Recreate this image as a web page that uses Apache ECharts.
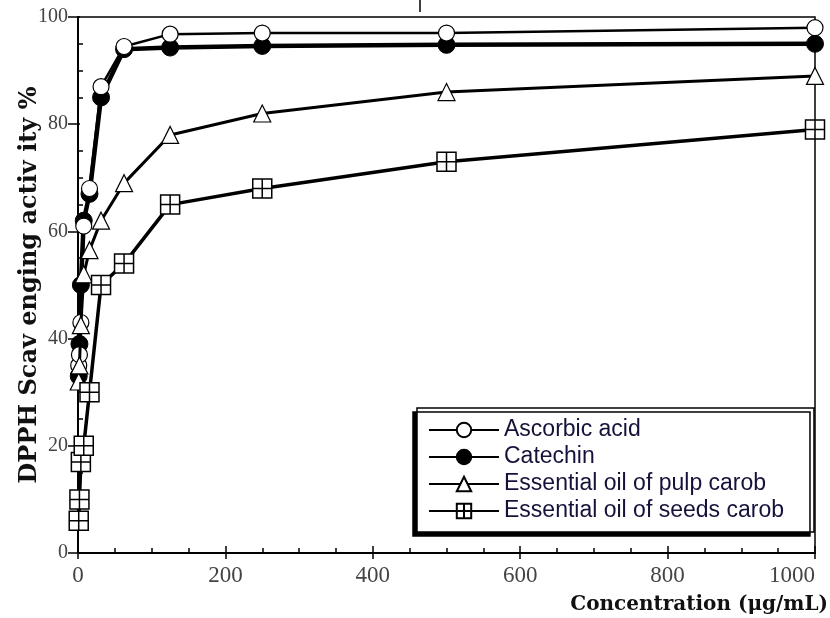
<!DOCTYPE html>
<html>
<head>
<meta charset="utf-8">
<script src="https://cdn.jsdelivr.net/npm/echarts@6/dist/echarts.min.js"></script>
<style>
  html, body { margin: 0; padding: 0; background: #fff; }
  #chart { width: 830px; height: 618px; }
</style>
</head>
<body>
<div id="chart"></div>
<script>
// concentrations (µg/mL)
var conc = [0.98, 1.95, 3.9, 7.8, 15.6, 31.25, 62.5, 125, 250, 500, 1000];
// DPPH scavenging activity %
var ascorbic = [35, 37, 43, 61, 68, 87, 94.5, 96.8, 97, 97, 98];
var catechin = [33, 39, 50, 62, 67, 85, 94, 94.3, 94.6, 94.8, 95];
var pulpOil = [32, 35, 42.5, 52, 56.5, 62, 69, 78, 82, 86, 89];
var seedOil = [6, 10, 17, 20, 30, 50, 54, 65, 68, 73, 79];
var names = ['Ascorbic acid', 'Catechin', 'Essential oil of pulp carob', 'Essential oil of seeds carob'];

function pairs(ys) {
  var out = [];
  for (var i = 0; i < conc.length; i++) out.push([conc[i], ys[i]]);
  return out;
}

var serif = '"Liberation Serif", "DejaVu Serif", serif';
var wideSerif = '"DejaVu Serif", serif';
var crossSquare = 'path://M0,0H10V10H0Z M5,0V10 M0,5H10';

var myChart = echarts.init(document.getElementById('chart'));

var option = {
  animation: false,
  backgroundColor: '#fff',
  grid: {
    left: 78, right: 15, top: 17, bottom: 65,
    outerBoundsMode: 'none',
    containLabel: false,
    show: true, borderColor: '#000', borderWidth: 1.5
  },
  legend: {
    data: names,
    orient: 'vertical',
    left: 417, top: 408,
    padding: [10, 30, 9, 11],
    itemGap: 3,
    itemWidth: 70,
    itemHeight: 18,
    backgroundColor: '#fff',
    borderColor: '#000',
    borderWidth: 1.5,
    shadowColor: '#000',
    shadowBlur: 0,
    shadowOffsetX: -4,
    shadowOffsetY: 4,
    textStyle: { fontFamily: '"Liberation Sans", Arial, sans-serif', fontSize: 23, lineHeight: 24, color: '#15123a' }
  },
  xAxis: [
    {
      type: 'value', min: 0, max: 1000, interval: 200,
      name: 'Concentration (μg/mL)',
      nameLocation: 'end', nameGap: 13, nameMoveOverlap: false,
      nameTextStyle: { fontFamily: wideSerif, fontWeight: 'bold', fontSize: 20, color: '#111', align: 'right', verticalAlign: 'top', padding: [42, 0, 0, 0] },
      axisLine: { lineStyle: { color: '#000', width: 2 } },
      axisTick: { inside: true, length: 7, lineStyle: { color: '#000', width: 1.5 } },
      minorTick: { show: true, splitNumber: 4, length: 5, lineStyle: { color: '#000', width: 1.5 } },
      splitLine: { show: false },
      axisLabel: {
        fontFamily: serif, fontSize: 23, color: '#444', margin: 11,
        alignMaxLabel: 'right',
        formatter: function (v) { return String(v); }
      }
    },
    {
      type: 'value', min: 0, max: 1000, interval: 200, position: 'bottom',
      axisLine: { show: false },
      axisTick: { inside: false, length: 6, lineStyle: { color: '#000', width: 1.5 } },
      splitLine: { show: false },
      axisLabel: { show: false }
    }
  ],
  yAxis: [
    {
      type: 'value', min: 0, max: 100, interval: 20,
      name: 'DPPH Scav enging activ ity %',
      nameLocation: 'middle', nameGap: 36, nameRotate: 90, nameMoveOverlap: false,
      nameTextStyle: { fontFamily: wideSerif, fontWeight: 'bold', fontSize: 24, color: '#111' },
      axisLine: { lineStyle: { color: '#000', width: 2 } },
      axisTick: { inside: true, length: 2, lineStyle: { color: '#000', width: 1.5 } },
      minorTick: { show: true, splitNumber: 4, length: 5, lineStyle: { color: '#000', width: 1.5 } },
      splitLine: { show: false },
      axisLabel: { fontFamily: serif, fontSize: 20, color: '#444', margin: 10 }
    },
    {
      type: 'value', min: 0, max: 100, interval: 20, position: 'left',
      axisLine: { show: false },
      axisTick: { inside: false, length: 10, lineStyle: { color: '#000', width: 1.5 } },
      splitLine: { show: false },
      axisLabel: { show: false }
    }
  ],
  series: [
    {
      name: names[0], type: 'line', data: pairs(ascorbic),
      symbol: 'circle', symbolSize: 16,
      lineStyle: { color: '#000', width: 2.5 },
      itemStyle: { color: '#fff', borderColor: '#000', borderWidth: 1.2 },
      z: 4
    },
    {
      name: names[1], type: 'line', data: pairs(catechin),
      symbol: 'circle', symbolSize: 17,
      lineStyle: { color: '#000', width: 4.5 },
      itemStyle: { color: '#000', borderColor: '#000', borderWidth: 1 },
      z: 3
    },
    {
      name: names[2], type: 'line', data: pairs(pulpOil),
      symbol: 'triangle', symbolSize: 17,
      lineStyle: { color: '#000', width: 3 },
      itemStyle: { color: '#fff', borderColor: '#000', borderWidth: 1.2 },
      z: 5
    },
    {
      name: names[3], type: 'line', data: pairs(seedOil),
      symbol: crossSquare, symbolSize: 19,
      lineStyle: { color: '#000', width: 3.5 },
      itemStyle: { color: '#fff', borderColor: '#000', borderWidth: 1.5 },
      z: 6
    }
  ],
  graphic: [
    {
      type: 'line', shape: { x1: 420, y1: 0, x2: 420, y2: 12 },
      style: { stroke: '#000', lineWidth: 1.5 }
    }
  ]
};

myChart.setOption(option);
</script>
</body>
</html>
